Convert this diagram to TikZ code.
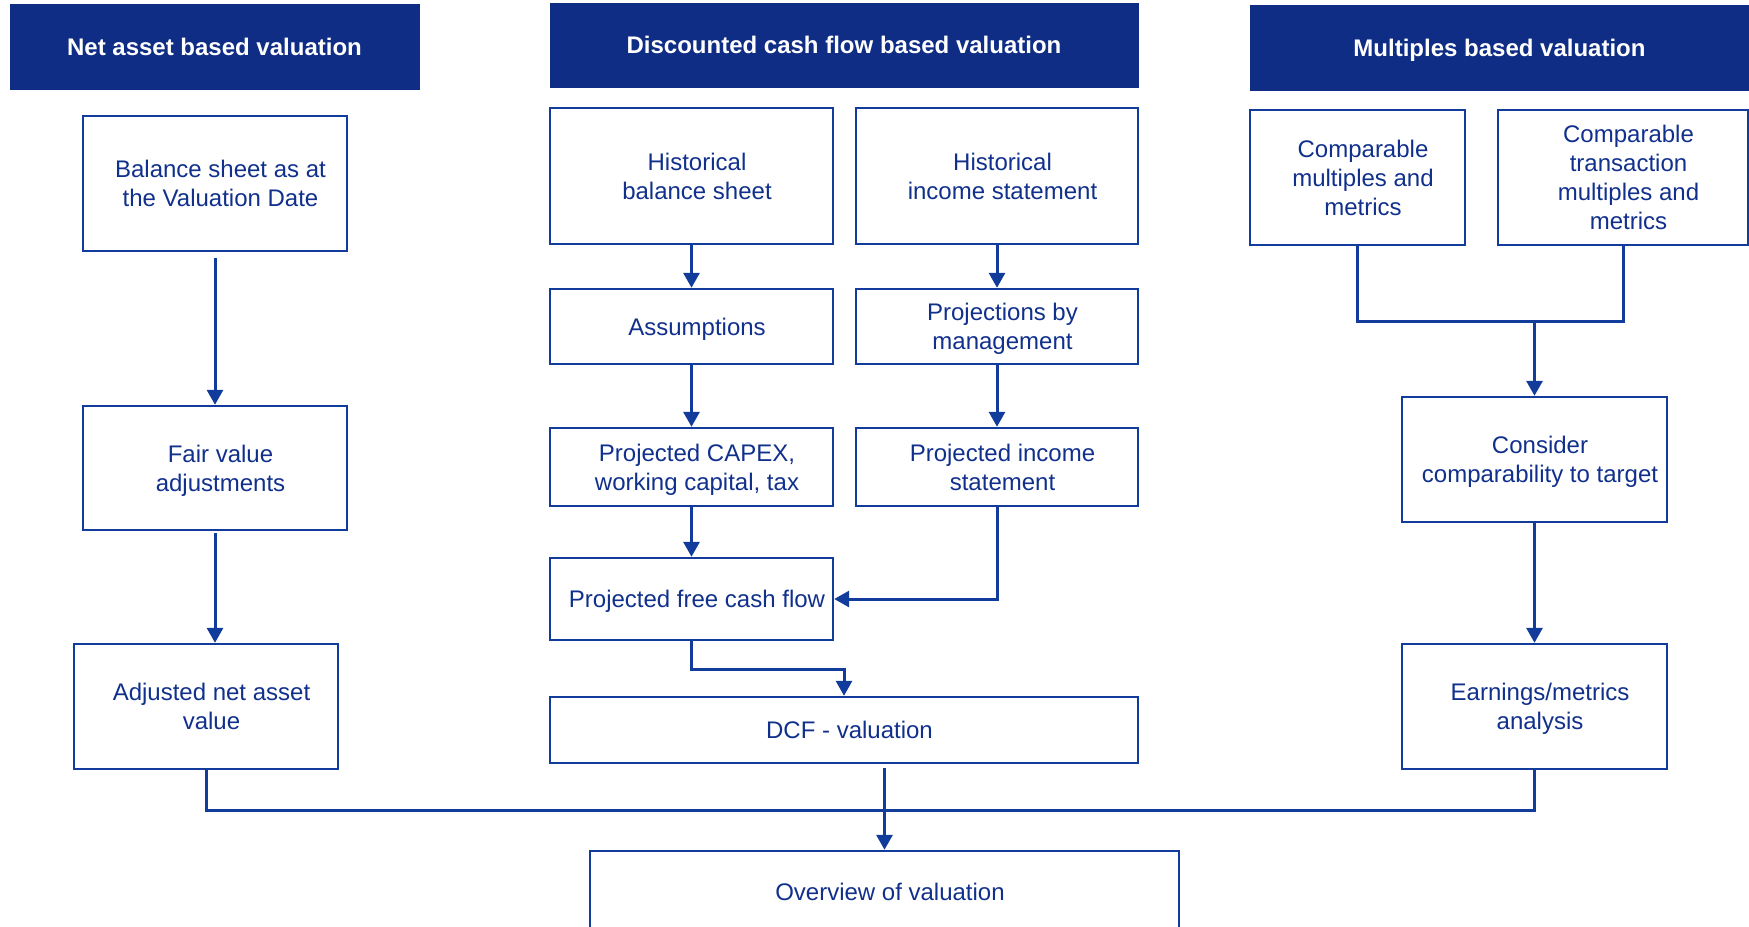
\documentclass[tikz,border=0pt]{standalone}
\usepackage{fontspec}
\setmainfont{Liberation Sans}
\usetikzlibrary{arrows.meta}
\definecolor{hdr}{RGB}{15,45,132}
\definecolor{ink}{RGB}{16,48,140}
\definecolor{edge}{RGB}{18,60,156}
\newcommand\mynodeendfix{\endgraf\ifvmode\kern-\prevdepth\fi}
\newcommand\mynodefont{\fontsize{12}{14.5}\selectfont\spaceskip=\fontdimen2\font\relax}
\begin{document}
\begin{tikzpicture}[x=0.5pt,y=-0.5pt,
  hdrbox/.style={fill=hdr, draw=hdr, text=white, font=\fontsize{12}{14.5}\selectfont\bfseries,
    inner sep=0pt, text width=#1, minimum width=#1,
    execute at begin node={\bfseries\mynodefont\centering},
    execute at end node={\mynodeendfix}},
  box/.style={draw=edge, line width=1.2pt, text=ink, font=\fontsize{12}{14.5}\selectfont,
    inner sep=0pt, text width=#1, minimum width=#1,
    execute at begin node={\mynodefont\centering\leftskip=5.5pt plus 1fil\relax},
    execute at end node={\mynodeendfix}},
  conn/.style={draw=edge, line width=1.5pt},
  arr/.style={conn, -{Triangle[width=8pt,length=7.5pt]}}]
\useasboundingbox (0,0) rectangle (1749,926);
% headers
\node[hdrbox=204.5pt, minimum height=42.5pt] (h1) at (214.5,46.5) {Net asset based valuation};
\node[hdrbox=294pt, minimum height=42pt] (h2) at (844,45) {Discounted cash flow based valuation};
\node[hdrbox=249.5pt, minimum height=42.25pt] (h3) at (1499.5,47.75) {Multiples based valuation};
% left column
\node[box=132pt, minimum height=67.5pt] (bs) at (215,183.5) {Balance sheet as at\\the Valuation Date};
\node[box=132pt, minimum height=62pt] (fv) at (215,468) {Fair value\\adjustments};
\node[box=132pt, minimum height=62.5pt] (anav) at (206,706.5) {Adjusted net asset\\value};
% middle column
\node[box=141.5pt, minimum height=68pt] (hbs) at (691.5,176) {Historical\\balance sheet};
\node[box=141pt, minimum height=68pt] (his) at (997,176) {Historical\\income statement};
\node[box=141.5pt, minimum height=37.5pt] (ass) at (691.5,326.5) {Assumptions};
\node[box=141pt, minimum height=37.5pt] (pbm) at (997,326.5) {Projections by\\management};
\node[box=141.5pt, minimum height=39pt] (capex) at (691.5,467) {Projected CAPEX,\\working capital, tax};
\node[box=141pt, minimum height=39pt] (pis) at (997,467) {Projected income\\statement};
\node[box=141.5pt, minimum height=41pt] (fcf) at (691.5,599) {Projected free cash flow};
\node[box=294pt, minimum height=33pt] (dcf) at (844,730) {DCF - valuation};
\node[box=294.5pt, minimum height=40.5pt] (ov) at (884.5,891.5) {Overview of valuation};
% right column
\node[box=107.5pt, minimum height=67.5pt] (cm) at (1357.5,177.5) {Comparable\\multiples and\\metrics};
\node[box=125pt, minimum height=67.5pt] (ct) at (1623,177.5) {Comparable\\transaction\\multiples and\\metrics};
\node[box=132.5pt, minimum height=62.5pt] (cons) at (1534.5,459.5) {Consider\\comparability to target};
\node[box=132.5pt, minimum height=62.5pt] (earn) at (1534.5,706.5) {Earnings/metrics\\analysis};
% helper coordinates
\coordinate (fd) at (691.5,669);
\coordinate (bus) at (884.5,810);
\coordinate (mj) at (1534.5,321);
% connectors left
\draw[arr, shorten <=3pt] (bs.south) -- (fv.north);
\draw[arr, shorten <=1pt] (fv.south) -- (fv.south |- anav.north);
% connectors middle
\draw[arr] (hbs.south) -- (ass.north);
\draw[arr] (his.south) -- (pbm.north);
\draw[arr] (ass.south) -- (capex.north);
\draw[arr] (pbm.south) -- (pis.north);
\draw[arr] (capex.south) -- (fcf.north);
\draw[arr] (pis.south) |- (fcf.east);
\draw[arr] (fcf.south) -- (fd) -| (dcf.north);
\draw[arr, shorten <=2pt] (dcf.south -| ov.north) -- (ov.north);
% connectors right
\draw[conn] (cm.south) -- (cm.south |- mj) -- (ct.south |- mj) -- (ct.south);
\draw[arr] (mj) -- (cons.north);
\draw[arr] (cons.south) -- (earn.north);
% bottom bus
\draw[conn] (anav.south) -- (anav.south |- bus) -- (earn.south |- bus) -- (earn.south);
\end{tikzpicture}
\end{document}
